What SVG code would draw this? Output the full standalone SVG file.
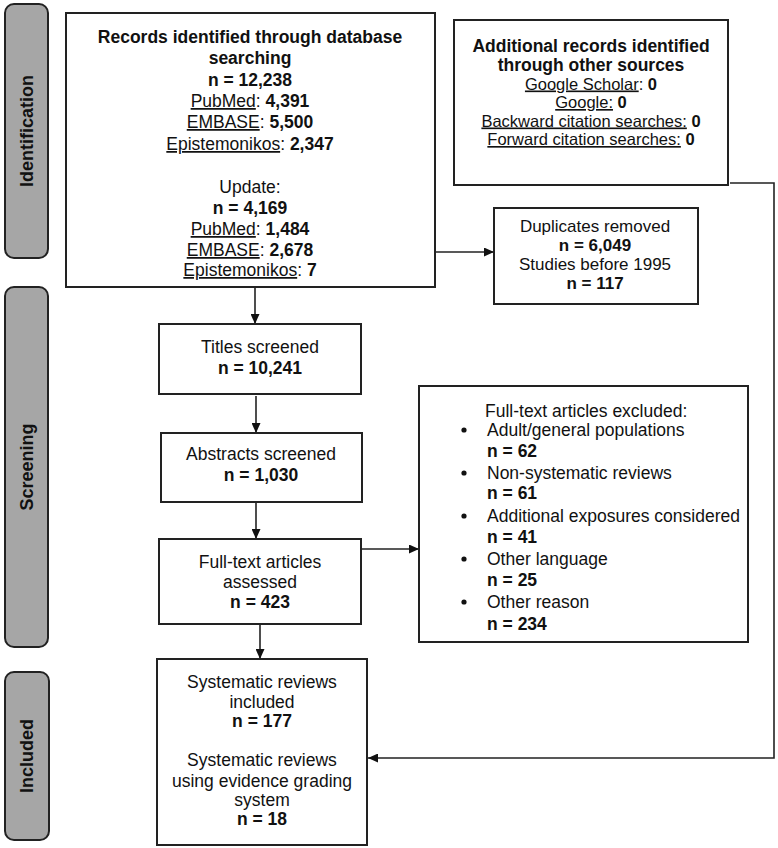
<svg xmlns="http://www.w3.org/2000/svg" width="778" height="848" viewBox="0 0 778 848">
<style>
text{font-family:"Liberation Sans",Arial,sans-serif;font-size:17.5px;fill:#111;}
.c{text-anchor:middle;}
.b{font-weight:bold;}
.u{text-decoration:underline;}
.s{font-size:16.5px;}
.m{font-size:17px;}
.box{fill:#fff;stroke:#222;stroke-width:2;}
.side{fill:#a6a6a6;stroke:#222;stroke-width:2;}
.st{font-weight:bold;font-size:18px;text-anchor:middle;fill:#111;}
.ln{fill:none;stroke:#222;stroke-width:1.6;}
</style>
<defs>
<marker id="ah" viewBox="0 0 10 10" refX="10" refY="5" markerWidth="10" markerHeight="9" markerUnits="userSpaceOnUse" orient="auto" preserveAspectRatio="none">
<path d="M0,0 L10,5 L0,10 z" fill="#111"/>
</marker>
</defs>
<g id="side-identification">
<rect class="side" x="5" y="4" width="43" height="254" rx="9"/>
<text class="st" transform="translate(33,131) rotate(-90)">Identification</text>
</g>
<g id="side-screening">
<rect class="side" x="5" y="287" width="43" height="360" rx="9"/>
<text class="st" transform="translate(33,467) rotate(-90)">Screening</text>
</g>
<g id="side-included">
<rect class="side" x="5" y="672" width="44" height="168" rx="9"/>
<text class="st" transform="translate(33,756) rotate(-90)">Included</text>
</g>
<g id="connectors">
<line class="ln" x1="255" y1="287" x2="255" y2="324" marker-end="url(#ah)"/>
<line class="ln" x1="435" y1="252" x2="494" y2="252" marker-end="url(#ah)"/>
<line class="ln" x1="256" y1="396" x2="256" y2="433" marker-end="url(#ah)"/>
<line class="ln" x1="256" y1="502" x2="256" y2="539" marker-end="url(#ah)"/>
<line class="ln" x1="361" y1="549" x2="419" y2="549" marker-end="url(#ah)"/>
<line class="ln" x1="260" y1="624" x2="260" y2="659" marker-end="url(#ah)"/>
<polyline class="ln" points="730,183 774,183 774,758 368,758" marker-end="url(#ah)"/>
</g>
<g id="node-database">
<rect class="box" x="66" y="13" width="369" height="274"/>
<text class="c b" x="250" y="43">Records identified through database</text>
<text class="c b" x="250" y="64">searching</text>
<text class="c b" x="250" y="86">n = 12,238</text>
<text class="c" x="250" y="107"><tspan class="u">PubMed</tspan>: <tspan class="b">4,391</tspan></text>
<text class="c" x="250" y="128"><tspan class="u">EMBASE</tspan>: <tspan class="b">5,500</tspan></text>
<text class="c" x="250" y="150"><tspan class="u">Epistemonikos</tspan>: <tspan class="b">2,347</tspan></text>
<text class="c" x="250" y="193">Update:</text>
<text class="c b" x="250" y="214">n = 4,169</text>
<text class="c" x="250" y="235"><tspan class="u">PubMed</tspan>: <tspan class="b">1,484</tspan></text>
<text class="c" x="250" y="256"><tspan class="u">EMBASE</tspan>: <tspan class="b">2,678</tspan></text>
<text class="c" x="250" y="276"><tspan class="u">Epistemonikos</tspan>: <tspan class="b">7</tspan></text>
</g>
<g id="node-other-sources">
<rect class="box" x="454" y="20" width="274" height="165"/>
<text class="c b" x="591" y="52">Additional records identified</text>
<text class="c b" x="591" y="71">through other sources</text>
<text class="c s" x="591" y="89.5"><tspan class="u">Google Scholar</tspan>: <tspan class="b">0</tspan></text>
<text class="c s" x="591" y="108"><tspan class="u">Google:</tspan> <tspan class="b">0</tspan></text>
<text class="c s" x="591" y="126.5"><tspan class="u">Backward citation searches:</tspan> <tspan class="b">0</tspan></text>
<text class="c s" x="591" y="145"><tspan class="u">Forward citation searches:</tspan> <tspan class="b">0</tspan></text>
</g>
<g id="node-duplicates">
<rect class="box" x="494" y="208" width="204" height="96"/>
<text class="c m" x="595" y="232">Duplicates removed</text>
<text class="c b m" x="595" y="251">n = 6,049</text>
<text class="c m" x="595" y="270">Studies before 1995</text>
<text class="c b m" x="595" y="289">n = 117</text>
</g>
<g id="node-titles">
<rect class="box" x="159" y="324" width="202" height="70"/>
<text class="c" x="260" y="353">Titles screened</text>
<text class="c b" x="260" y="374">n = 10,241</text>
</g>
<g id="node-abstracts">
<rect class="box" x="161" y="433" width="201" height="69"/>
<text class="c" x="261" y="460">Abstracts screened</text>
<text class="c b" x="261" y="481">n = 1,030</text>
</g>
<g id="node-fulltext">
<rect class="box" x="159" y="539" width="202" height="85"/>
<text class="c" x="260" y="568">Full-text articles</text>
<text class="c" x="260" y="588">assessed</text>
<text class="c b" x="260" y="608">n = 423</text>
</g>
<g id="node-excluded">
<rect class="box" x="419" y="386" width="329" height="256"/>
<text x="485" y="417">Full-text articles excluded:</text>
<g fill="#111">
<circle cx="464" cy="430" r="2.6"/>
<circle cx="464" cy="473" r="2.6"/>
<circle cx="464" cy="516" r="2.6"/>
<circle cx="464" cy="559" r="2.6"/>
<circle cx="464" cy="602" r="2.6"/>
</g>
<text x="487" y="436">Adult/general populations</text>
<text class="b" x="487" y="457">n = 62</text>
<text x="487" y="479">Non-systematic reviews</text>
<text class="b" x="487" y="499">n = 61</text>
<text x="487" y="522">Additional exposures considered</text>
<text class="b" x="487" y="543">n = 41</text>
<text x="487" y="565">Other language</text>
<text class="b" x="487" y="586">n = 25</text>
<text x="487" y="608">Other reason</text>
<text class="b" x="487" y="630">n = 234</text>
</g>
<g id="node-included">
<rect class="box" x="157" y="659" width="210" height="186"/>
<text class="c" x="262" y="688">Systematic reviews</text>
<text class="c" x="262" y="708">included</text>
<text class="c b" x="262" y="727">n = 177</text>
<text class="c" x="262" y="766">Systematic reviews</text>
<text class="c" x="262" y="787">using evidence grading</text>
<text class="c" x="262" y="806">system</text>
<text class="c b" x="262" y="825">n = 18</text>
</g>
</svg>
